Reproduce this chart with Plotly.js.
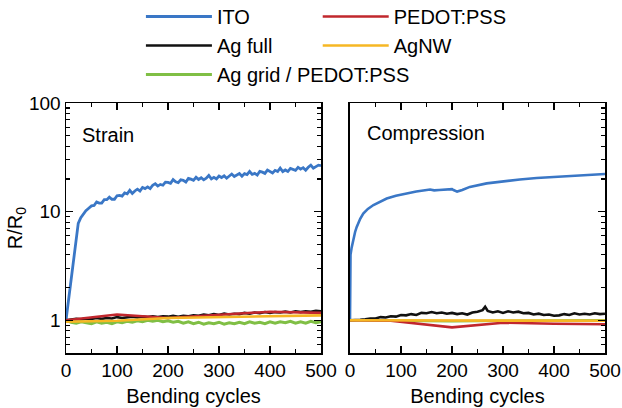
<!DOCTYPE html>
<html><head><meta charset="utf-8">
<script src="https://cdn.plot.ly/plotly-3.0.1.min.js"></script>
<style>html,body{margin:0;padding:0;background:#fff;}#chart{width:622px;height:408px;}</style>
</head><body><div id="chart"></div>
<script>
// ---- Strain panel data ----
const itoStrainX = [0,24,29,34,39,44,50,55,60,65,70,75,80,85,90,95,100,105,110,115,120,125,130,135,140,145,150,155,160,165,170,175,180,185,190,195,200,205,210,215,220,225,230,235,240,245,250,255,260,265,270,275,280,285,290,295,300,305,310,315,320,325,330,335,340,345,350,355,360,365,370,375,380,385,390,395,400,405,410,415,420,425,430,435,440,445,450,455,460,465,470,475,480,485,490,495,500];
const itoStrainY = [1.0,7.8,8.8,9.6,10.2,10.7,11.3,11.4,12.3,12.0,12.0,12.9,12.9,13.6,13.0,13.0,14.0,14.1,13.9,14.9,14.6,15.7,14.7,15.5,16.1,15.5,16.7,16.3,16.9,16.3,17.5,18.1,17.2,17.8,17.5,18.7,18.6,18.2,19.7,18.8,18.5,19.6,19.4,18.7,20.2,19.9,19.4,20.7,19.8,20.5,19.6,20.3,21.5,20.0,20.7,20.0,21.3,20.6,21.4,20.3,21.4,22.2,21.1,21.6,22.4,21.2,22.4,21.9,23.4,22.0,22.5,21.7,23.5,23.1,22.5,24.1,23.3,22.7,24.0,23.4,25.2,23.4,24.2,23.4,25.0,24.4,24.0,25.6,24.6,25.4,24.1,25.6,26.8,25.1,25.8,26.8,26.5];
const step10X = [0,10,20,30,40,50,60,70,80,90,100,110,120,130,140,150,160,170,180,190,200,210,220,230,240,250,260,270,280,290,300,310,320,330,340,350,360,370,380,390,400,410,420,430,440,450,460,470,480,490,500];
const agFullStrainY = [1.00,1.01,1.03,1.02,1.04,1.03,1.05,1.03,1.05,1.04,1.07,1.05,1.06,1.08,1.06,1.08,1.07,1.09,1.07,1.09,1.08,1.10,1.08,1.10,1.09,1.11,1.10,1.13,1.11,1.14,1.12,1.15,1.13,1.15,1.14,1.17,1.15,1.18,1.16,1.19,1.17,1.19,1.18,1.20,1.18,1.21,1.19,1.21,1.20,1.22,1.21];
const agGridStrainY = [1.00,0.96,0.94,0.97,0.95,0.93,0.97,0.94,0.96,0.93,0.97,0.95,0.98,0.96,0.99,0.97,1.00,0.98,1.00,0.97,0.99,0.96,0.98,0.94,0.97,0.93,0.96,0.92,0.95,0.93,0.96,0.92,0.95,0.93,0.96,0.93,0.97,0.94,0.96,0.93,0.97,0.94,0.97,0.95,0.98,0.94,0.97,0.94,0.98,0.95,0.97];
const coarseX = [0,100,200,300,400,500];
const pedotStrainY = [1.00,1.13,1.05,1.12,1.20,1.17];
const agnwStrainY = [0.97,0.99,1.05,1.07,1.09,1.11];

// ---- Compression panel data ----
const itoCompX = [0,1,3,6,10,13,20,26,35,46,60,72,90,105,130,157,165,175,190,200,203,210,220,235,268,300,333,366,399,450,500];
const itoCompY = [1.0,4.0,4.6,5.5,6.5,7.2,8.6,9.6,10.6,11.5,12.5,13.2,14.0,14.5,15.3,16.0,15.7,15.8,15.9,16.1,15.8,15.3,15.8,16.9,18.2,19.0,19.8,20.4,20.9,21.5,22.2];
const agFullCompX = [0,10,20,30,40,50,60,70,80,90,100,110,120,130,140,150,160,170,180,190,200,210,220,230,240,250,260,265,270,280,290,300,310,320,330,340,350,360,370,380,390,400,410,420,430,440,450,460,470,480,490,500];
const agFullCompY = [1.00,1.00,1.01,1.02,1.04,1.04,1.07,1.06,1.09,1.08,1.12,1.11,1.14,1.12,1.17,1.16,1.19,1.16,1.18,1.15,1.17,1.14,1.16,1.13,1.18,1.20,1.24,1.33,1.22,1.18,1.21,1.17,1.21,1.18,1.20,1.16,1.17,1.13,1.15,1.12,1.13,1.10,1.11,1.14,1.12,1.16,1.13,1.15,1.13,1.16,1.14,1.15];
const agGridCompY = [1.00,0.99,0.98,0.99,1.00,1.00];
const pedotCompX = [0,80,200,300,400,500];
const pedotCompY = [1.00,0.99,0.86,0.95,0.93,0.92];
const agnwCompY = [1.00,1.00,1.00,0.99,0.99,0.99];

const names = {ito:'ITO', agfull:'Ag full', aggrid:'Ag grid / PEDOT:PSS', pedot:'PEDOT:PSS', agnw:'AgNW'};
const colors = {ito:'#3a77c6', agfull:'#111111', aggrid:'#80bf45', pedot:'#c1272d', agnw:'#f6b724'};

function tr(x, y, key, panel, legend, show, w) {
  return {x:x, y:y, type:'scatter', mode:'lines', name:names[key], legendgroup:key,
    line:{color:colors[key], width:w||2.6}, xaxis: panel===1?'x':'x2', yaxis: panel===1?'y':'y2',
    showlegend:show, legend:legend, hoverinfo:'skip'};
}
const data = [
  tr(itoStrainX, itoStrainY, 'ito', 1, 'legend', true, 2.8),
  tr(step10X, agFullStrainY, 'agfull', 1, 'legend', true),
  tr(step10X, agGridStrainY, 'aggrid', 1, 'legend', true, 3),
  tr(coarseX, pedotStrainY, 'pedot', 1, 'legend2', true),
  tr(coarseX, agnwStrainY, 'agnw', 1, 'legend2', true),
  tr(itoCompX, itoCompY, 'ito', 2, 'legend', false),
  tr(agFullCompX, agFullCompY, 'agfull', 2, 'legend', false),
  tr(coarseX, agGridCompY, 'aggrid', 2, 'legend', false),
  tr(pedotCompX, pedotCompY, 'pedot', 2, 'legend2', false),
  tr(coarseX, agnwCompY, 'agnw', 2, 'legend2', false)
];

const FONT = 'Liberation Sans, Arial, Helvetica, sans-serif';
const minorY = [0.5,0.6,0.7,0.8,0.9,2,3,4,5,6,7,8,9,20,30,40,50,60,70,80,90];
function xax(domain, anchor) {
  return {domain:domain, anchor:anchor, range:[0,500], tickmode:'linear', tick0:0, dtick:100,
    ticks:'inside', ticklen:7, tickwidth:1.3, tickcolor:'#000', showline:true, linewidth:1.5, linecolor:'#000',
    mirror:'ticks', showgrid:false, zeroline:false, tickfont:{size:19, color:'#000'},
    minor:{tick0:0, dtick:50, ticks:'inside', ticklen:4, tickwidth:1.2, tickcolor:'#000', showgrid:false},
    title:{text:'Bending cycles', font:{size:20, color:'#000'}, standoff:8}, fixedrange:true};
}
function yax(anchor, isLeft) {
  const a = {anchor:anchor, type:'log', range:[Math.log10(0.5), 2], tickmode:'array',
    tickvals:[1,10,100], ticktext:['1','10','100'], ticks:'inside', ticklen:7, tickwidth:1.3, tickcolor:'#000',
    showline:true, linewidth:1.5, linecolor:'#000', showgrid:false, zeroline:false,
    tickfont:{size:19, color:'#000'},
    minor:{tickmode:'array', tickvals:minorY, ticks:'inside', ticklen:4, tickwidth:1.2, tickcolor:'#000', showgrid:false},
    fixedrange:true};
  if (isLeft) {
    a.mirror = 'allticks';
    a.title = {text:'R/R<sub>0</sub>', font:{size:20, color:'#000'}, standoff:1};
  } else {
    a.side = 'right';
    a.mirror = true;
    a.showticklabels = false;
  }
  return a;
}
const legendBase = {orientation:'v', xanchor:'left', yanchor:'top', bgcolor:'rgba(0,0,0,0)',
  font:{size:20, color:'#000'}, itemwidth:66, tracegroupgap:5.5, traceorder:'normal', itemclick:false, itemdoubleclick:false};

const layout = {
  width:622, height:408, paper_bgcolor:'#fff', plot_bgcolor:'#fff',
  font:{family:FONT, color:'#000'},
  margin:{l:66, r:17, t:103, b:55, autoexpand:false},
  xaxis: xax([0, 0.4731], 'y'),
  yaxis: yax('x', true),
  xaxis2: xax([0.5269, 1], 'y2'),
  yaxis2: yax('x2', false),
  legend: Object.assign({}, legendBase, {x:0.139, y:1.424}),
  legend2: Object.assign({}, legendBase, {x:0.467, y:1.424}),
  annotations:[
    {text:'Strain', xref:'x domain', yref:'y domain', x:0.055, y:0.872, xanchor:'left', yanchor:'middle', showarrow:false, font:{size:20, color:'#000'}},
    {text:'Compression', xref:'x2 domain', yref:'y2 domain', x:0.059, y:0.88, xanchor:'left', yanchor:'middle', showarrow:false, font:{size:20, color:'#000'}}
  ]
};
Plotly.newPlot('chart', data, layout, {displayModeBar:false, staticPlot:true});
</script>
</body></html>
